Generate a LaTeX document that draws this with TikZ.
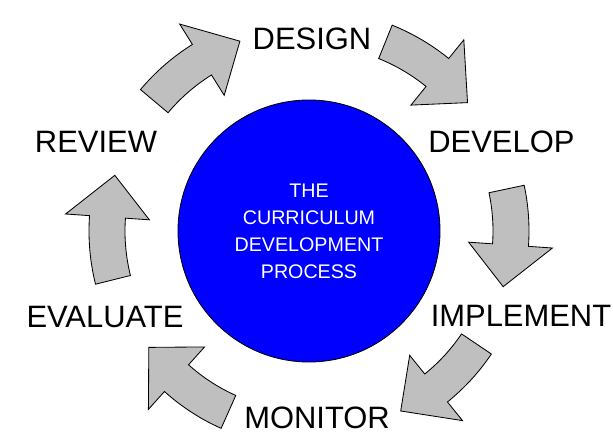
\documentclass[tikz,border=0pt]{standalone}
\usepackage{fontspec}
\setmainfont{Liberation Sans}
\usepackage{tikz}

\begin{document}
\begin{tikzpicture}[every text node part/.style={align=center},
  stage/.style={font=\fontsize{22}{26}\selectfont, inner sep=0pt},
  hub/.style={circle, draw, fill=blue, line width=0.6pt, minimum size=6.55cm, text=white, font=\fontsize{14}{19.2}\selectfont},
  turn/.style={draw, fill=black!25, line width=0.6pt, line join=miter}]
  \useasboundingbox (-7.725,-5.075) rectangle (7.6,5.775);

  \node[hub] (process) at (0,0) {THE\\ CURRICULUM\\ DEVELOPMENT\\ PROCESS};

  \node[stage] (design) at (0.075,4.81) {DESIGN};
  \node[stage] (develop) at (4.81,2.24) {DEVELOP};
  \node[stage] (implement) at (5.3,-2.11) {IMPLEMENT};
  \node[stage] (monitor) at (0.2,-4.67) {MONITOR};
  \node[stage] (evaluate) at (-5.1,-2.15) {EVALUATE};
  \node[stage] (review) at (-5.325,2.24) {REVIEW};

  \draw[turn] (140:5.5) arc[start angle=140, end angle=122, radius=5.5] -- (122:6.1) -- (110:5.05) -- (122:4.0) -- (122:4.6) arc[start angle=122, end angle=140, radius=4.6] -- cycle;
  \draw[turn] (68:5.55) arc[start angle=68, end angle=51, radius=5.55] -- (51:6.15) -- (39:5.1) -- (51:4.05) -- (51:4.65) arc[start angle=51, end angle=68, radius=4.65] -- cycle;
  \draw[turn] (12:5.5) arc[start angle=12, end angle=-4, radius=5.5] -- (-4:6.1) -- (-16:5.05) -- (-4:4.0) -- (-4:4.6) arc[start angle=-4, end angle=12, radius=4.6] -- cycle;
  \draw[turn] (-34:5.5) arc[start angle=-34, end angle=-51, radius=5.5] -- (-51:6.1) -- (-63:5.05) -- (-51:4.0) -- (-51:4.6) arc[start angle=-51, end angle=-34, radius=4.6] -- cycle;
  \draw[turn] (246:5.4) arc[start angle=246, end angle=228, radius=5.4] -- (228:6.0) -- (216:4.95) -- (228:3.9) -- (228:4.5) arc[start angle=228, end angle=246, radius=4.5] -- cycle;
  \draw[turn] (194:5.5) arc[start angle=194, end angle=176, radius=5.5] -- (176:6.1) -- (164:5.05) -- (176:4.0) -- (176:4.6) arc[start angle=176, end angle=194, radius=4.6] -- cycle;
\end{tikzpicture}
\end{document}
